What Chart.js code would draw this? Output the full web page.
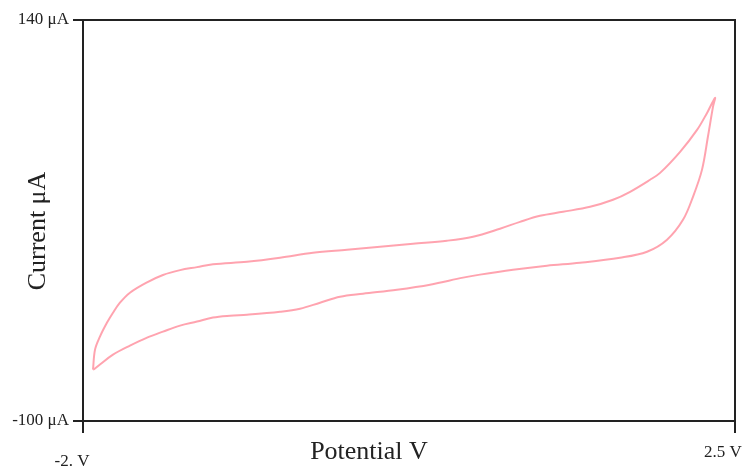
<!DOCTYPE html>
<html>
<head>
<meta charset="utf-8">
<script src="https://cdn.jsdelivr.net/npm/chart.js@4/dist/chart.umd.min.js"></script>
<style>
  html, body { margin: 0; padding: 0; background: #fff; }
  #wrap { width: 747px; height: 472px; }
</style>
</head>
<body>
<div id="wrap"><canvas id="chart"></canvas></div>
<script>
// cyclic voltammogram, forward sweep then reverse sweep
var potential = [
  -1.931, -1.917, -1.883, -1.834, -1.793, -1.745, -1.676, -1.558, -1.448, -1.330,
  -1.213, -1.103, -0.868, -0.640, -0.413, -0.178, 0.050, 0.278, 0.512, 0.692,
  0.878, 1.016, 1.154, 1.313, 1.500, 1.658, 1.776, 1.914, 1.983, 2.121,
  2.238, 2.307, 2.362,
  2.348, 2.313, 2.272, 2.210, 2.141, 2.031, 1.893, 1.706, 1.430, 1.202,
  0.968, 0.740, 0.623, 0.395, 0.167, -0.068, -0.226, -0.364, -0.502, -0.640,
  -0.868, -0.985, -1.103, -1.213, -1.330, -1.448, -1.558, -1.676, -1.793, -1.883,
  -1.917, -1.931
];
var current = [
  -69.2, -57.3, -49.5, -41.1, -35.2, -29.2, -23.2, -17.0, -12.6, -9.7,
  -7.9, -6.2, -4.7, -2.3, 0.7, 2.5, 4.3, 6.1, 7.9, 10.3,
  15.1, 19.2, 22.8, 25.2, 28.2, 32.4, 37.2, 44.4, 48.5, 61.1,
  74.2, 84.4, 93.4,
  88.0, 70.1, 50.3, 34.2, 20.4, 8.5, 1.3, -2.3, -5.3, -7.1,
  -9.5, -12.4, -14.2, -18.4, -21.4, -23.8, -25.6, -29.2, -32.8, -34.6,
  -36.4, -37.0, -38.1, -40.5, -42.9, -46.5, -50.1, -54.9, -60.3, -66.2,
  -68.6, -69.2
];
var xTickValues = [-2, 2.5];
var xTickLabels = ['-2. V', '2.5 V'];
var yTickValues = [-100, 140];
var yTickLabels = ['-100 \u03bcA', '140 \u03bcA'];

var ink = '#222';
var serif = 'Liberation Serif, Times New Roman, serif';

var points = potential.map(function (v, i) {
  return { x: v, y: current[i] };
});

// frame (top/right), axis titles and x tick labels
var decorations = {
  id: 'decorations',
  afterDraw: function (chart) {
    var ctx = chart.ctx;
    var a = chart.chartArea;
    var xs = chart.scales.x;
    ctx.save();
    ctx.strokeStyle = ink;
    ctx.lineWidth = 2;
    ctx.beginPath();
    ctx.moveTo(a.left, a.top);
    ctx.lineTo(a.right, a.top);
    ctx.lineTo(a.right, a.bottom);
    ctx.stroke();

    ctx.fillStyle = ink;
    ctx.textBaseline = 'middle';
    ctx.textAlign = 'center';
    ctx.font = '17px ' + serif;
    ctx.fillText(xTickLabels[0], xs.getPixelForValue(xTickValues[0]) - 11, a.bottom + 41);
    ctx.fillText(xTickLabels[1], xs.getPixelForValue(xTickValues[1]) - 12, a.bottom + 32);

    ctx.font = '26px ' + serif;
    ctx.fillText('Potential V', 369, a.bottom + 31);
    ctx.translate(38, 231);
    ctx.rotate(-Math.PI / 2);
    ctx.fillText('Current \u03bcA', 0, 0);
    ctx.restore();
  }
};

var config = {
  type: 'line',
  data: {
    datasets: [{
      data: points,
      borderColor: 'rgba(255, 140, 155, 0.8)',
      borderWidth: 2,
      pointRadius: 0,
      fill: false,
      tension: 0.35
    }]
  },
  options: {
    responsive: true,
    maintainAspectRatio: false,
    animation: false,
    layout: {
      padding: { top: 20, right: 12, left: 0, bottom: 0 }
    },
    plugins: {
      legend: { display: false },
      tooltip: { enabled: false }
    },
    scales: {
      x: {
        type: 'linear',
        min: -2,
        max: 2.5,
        afterBuildTicks: function (scale) {
          scale.ticks = xTickValues.map(function (v) { return { value: v }; });
        },
        afterFit: function (scale) { scale.height = 51; },
        ticks: { display: false },
        grid: { drawOnChartArea: false, tickLength: 12, color: ink, lineWidth: 2 },
        border: { color: ink, width: 2 }
      },
      y: {
        type: 'linear',
        min: -100,
        max: 140,
        afterBuildTicks: function (scale) {
          scale.ticks = yTickValues.map(function (v) { return { value: v }; });
        },
        afterFit: function (scale) { scale.width = 83; },
        ticks: {
          color: ink,
          padding: 4,
          font: { family: serif, size: 17 },
          callback: function (v) {
            return yTickLabels[yTickValues.indexOf(v)];
          }
        },
        grid: { drawOnChartArea: false, tickLength: 10, color: ink, lineWidth: 2 },
        border: { color: ink, width: 2 }
      }
    }
  },
  plugins: [decorations]
};

window.onload = function () {
  var ctx = document.getElementById('chart').getContext('2d');
  window.myChart = new Chart(ctx, config);
};
</script>
</body>
</html>
